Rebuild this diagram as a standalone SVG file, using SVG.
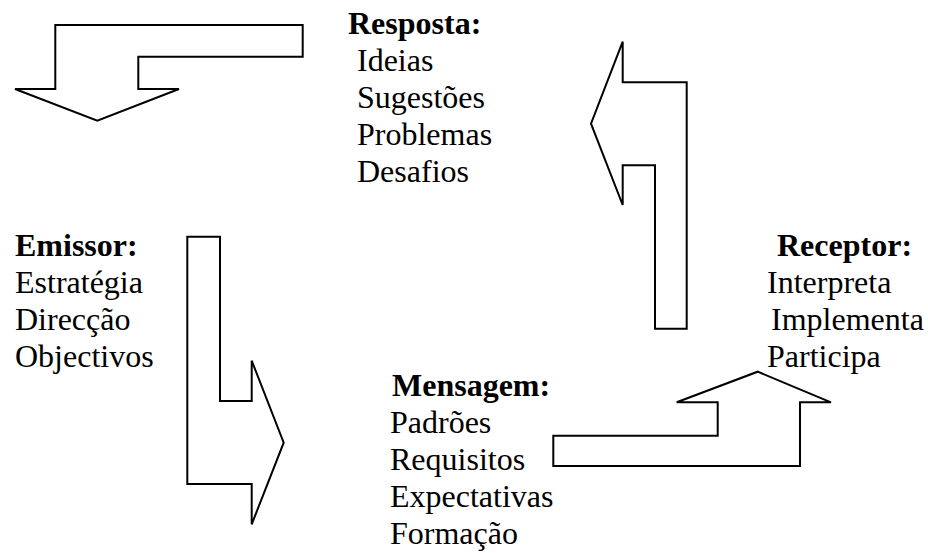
<svg xmlns="http://www.w3.org/2000/svg" width="928" height="553" viewBox="0 0 928 553">
<style>
.arrow{fill:#fff;stroke:#000;stroke-width:2;stroke-linejoin:miter}
text{font-family:"Liberation Serif","Times New Roman",serif;font-size:32px;fill:#000}
.h{font-weight:bold}
</style>
<rect width="928" height="553" fill="#fff"/>
<g id="connectors">
<polygon id="arrow-resposta-emissor" class="arrow" points="55.3,25 302.7,25 302.7,56.7 138.3,56.7 138.3,89 179,89 97.3,120.7 15,89 55.3,89"/>
<polygon id="arrow-emissor-mensagem" class="arrow" points="187.3,236.7 220,236.7 220,401 251.7,401 251.7,360.7 283.7,442.7 251.7,524.3 251.7,484 187.3,484"/>
<polygon id="arrow-mensagem-receptor" class="arrow" points="553.3,435.7 717.7,435.7 717.7,402.3 676.7,402.3 757.7,371.7 831,402.3 800,402.3 800,466 553.3,466"/>
<polygon id="arrow-receptor-resposta" class="arrow" points="622.7,41.7 622.7,82.3 686.7,82.3 686.7,328.7 655,328.7 655,165.3 622.7,165.3 622.7,205 591,123.7"/>
</g>
<g id="resposta">
<text class="h" x="348" y="34">Resposta:</text>
<text x="357" y="71">Ideias</text>
<text x="357" y="108">Sugestões</text>
<text x="357" y="145">Problemas</text>
<text x="357" y="182">Desafios</text>
</g>
<g id="emissor">
<text class="h" x="15" y="256">Emissor:</text>
<text x="15" y="293">Estratégia</text>
<text x="15" y="330">Direcção</text>
<text x="15" y="367">Objectivos</text>
</g>
<g id="receptor">
<text class="h" x="777" y="256">Receptor:</text>
<text x="767" y="293">Interpreta</text>
<text x="771" y="330">Implementa</text>
<text x="767" y="367">Participa</text>
</g>
<g id="mensagem">
<text class="h" x="392" y="396">Mensagem:</text>
<text x="390" y="433">Padrões</text>
<text x="390" y="470">Requisitos</text>
<text x="390" y="507">Expectativas</text>
<text x="390" y="544">Formação</text>
</g>
</svg>
